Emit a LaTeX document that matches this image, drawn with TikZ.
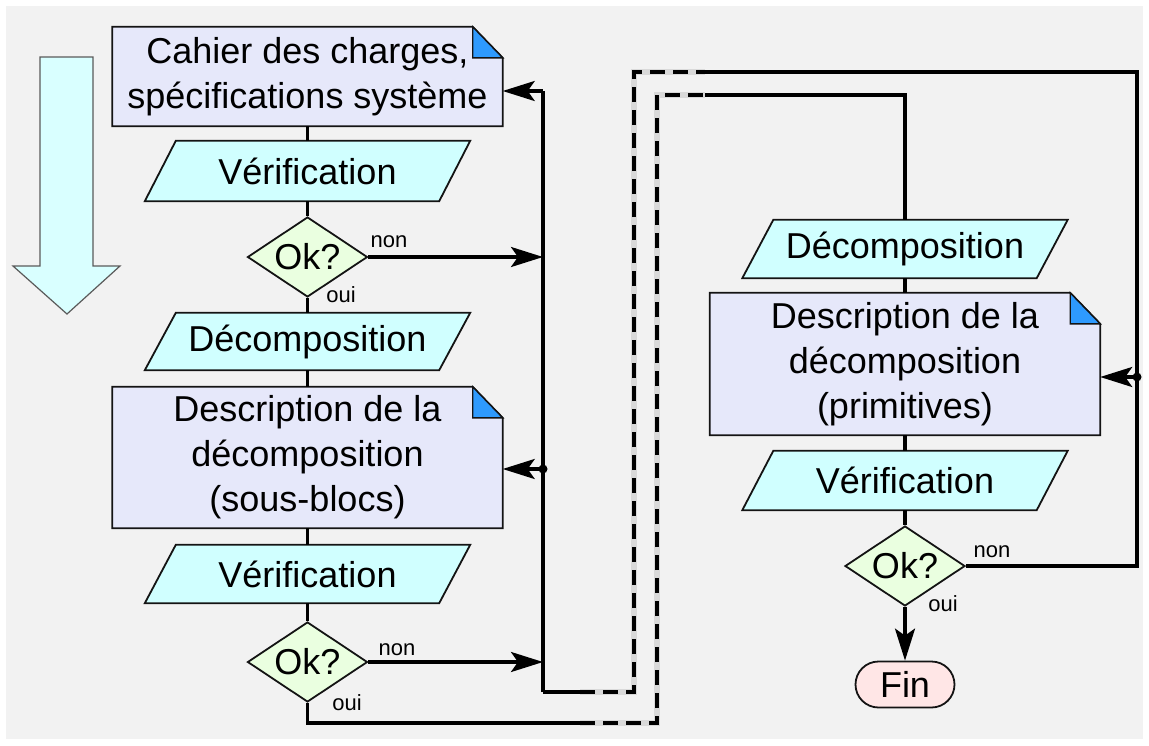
\documentclass[tikz,border=0pt]{standalone}
\usepackage{fontspec}
\setmainfont{Liberation Sans}
\usetikzlibrary{shapes.geometric,arrows.meta,backgrounds}

\definecolor{canvas}{RGB}{242,242,242}
\definecolor{docfill}{RGB}{230,232,250}
\definecolor{foldblue}{RGB}{46,154,254}
\definecolor{stepfill}{RGB}{208,255,255}
\definecolor{testfill}{RGB}{234,255,224}
\definecolor{endfill}{RGB}{255,230,230}
\definecolor{flowfill}{RGB}{217,255,255}
\definecolor{inkline}{RGB}{20,20,20}

\tikzset{
  bigtext/.style={font=\fontsize{36}{45}\selectfont},
  lbl/.style={font=\fontsize{22}{26}\selectfont, inner sep=0pt},
  docbox/.style={bigtext, shape=rectangle, minimum width=390pt, inner sep=0pt, align=center},
  iobox/.style={bigtext, shape=rectangle, minimum width=294pt, inner sep=0pt},
  testbox/.style={bigtext, diamond, draw=inkline, fill=testfill, line width=1.8pt,
    minimum width=120pt, minimum height=80pt, inner sep=0pt},
  endbox/.style={bigtext, rectangle, rounded corners=23pt, draw=inkline, fill=endfill,
    line width=1.8pt, minimum width=99pt, minimum height=46pt, inner sep=0pt},
  shapeline/.style={draw=inkline, line width=1.8pt},
  conn/.style={draw=black, line width=3.2pt},
  flow/.style={conn, -{Stealth[length=32pt,width=20pt,inset=7pt]}},
  hop/.style={draw=black, line width=3.2pt, dash pattern=on 15pt off 8pt,
    preaction={draw=gray!30, line width=6.5pt, solid}},
}

% text of the decision diamonds, centred on the node
\newcommand\oktext{\makebox[0pt]{\raisebox{-0.36em}[0pt][0pt]{Ok?}}}

% document shape with a folded corner
\newcommand\docshape[1]{%
  \path[shapeline, fill=docfill] (#1.south west) -- (#1.north west)
    -- ([xshift=-30pt]#1.north east) -- ([yshift=-31pt]#1.north east)
    -- (#1.south east) -- cycle;
  \path[draw=inkline, line width=1.4pt, fill=foldblue]
    ([xshift=-30pt]#1.north east) -- ([xshift=-30pt,yshift=-31pt]#1.north east)
    -- ([yshift=-31pt]#1.north east) -- cycle;}

% slanted input/output shape
\newcommand\ioshape[1]{%
  \path[shapeline, fill=stepfill] ([xshift=-15.5pt]#1.south west)
    -- ([xshift=15.5pt]#1.north west) -- ([xshift=15.5pt]#1.north east)
    -- ([xshift=-15.5pt]#1.south east) -- cycle;}

\begin{document}
\begin{tikzpicture}[x=1pt,y=-1pt]
\useasboundingbox (0,0) rectangle (1149,745);

% left column
\node[docbox, minimum height=99pt] (spec) at (307.5,76.5) {Cahier des charges,\\spécifications système};
\node[iobox, minimum height=60pt] (chk1) at (307.5,171) {Vérification};
\node[testbox] (ok1) at (307.5,257) {\oktext};
\node[iobox, minimum height=57pt] (dec1) at (307.5,341.5) {Décomposition};
\node[docbox, minimum height=141pt] (blocs) at (307.5,457.5) {Description de la\\décomposition\\(sous-blocs)};
\node[iobox, minimum height=58pt] (chk2) at (307.5,574) {Vérification};
\node[testbox] (ok2) at (307.5,662) {\oktext};

% right column
\node[iobox, minimum height=58pt] (dec2) at (905,249) {Décomposition};
\node[docbox, minimum height=142pt] (prim) at (905,364) {Description de la\\décomposition\\(primitives)};
\node[iobox, minimum height=59pt] (chk3) at (905,480.5) {Vérification};
\node[testbox] (ok3) at (905,566) {\oktext};
\node[endbox] (fin) at (905,684.5) {Fin};

% branch labels
\node[lbl] (non1) at (389,242) {non};
\node[lbl] (oui1) at (341,295) {oui};
\node[lbl] (non2) at (397,650) {non};
\node[lbl] (oui2) at (347,703) {oui};
\node[lbl] (non3) at (992,552) {non};
\node[lbl] (oui3) at (943,604) {oui};

% routing points
\coordinate (busL-top) at (543,91);
\coordinate (busL-bot) at (543,692);
\coordinate (busL-dot) at (543,469);
\coordinate (loopA-1) at (580,692);
\coordinate (loopA-2) at (634,692);
\coordinate (loopA-3) at (634,72);
\coordinate (loopA-4) at (705,72);
\coordinate (busR-top) at (1137,72);
\coordinate (busR-dot) at (1137,377);
\coordinate (loopB-0) at (307.5,723);
\coordinate (loopB-1) at (580,723);
\coordinate (loopB-2) at (657,723);
\coordinate (loopB-3) at (657,95);
\coordinate (loopB-4) at (705,95);
\coordinate (loopB-5) at (905,95);

% main flow
\draw[conn] (spec) -- (chk1) -- (ok1) -- (dec1) -- (blocs) -- (chk2) -- (ok2);
\draw[conn] (dec2) -- (prim) -- (chk3) -- (ok3);
\draw[flow] (ok3) -- (fin);

% rework loop of the left column
\draw[flow] (ok1.east) -- (busL-top |- ok1.east);
\draw[flow] (ok2.east) -- (busL-top |- ok2.east);
\draw[conn] (busL-bot) -- (busL-top);
\draw[flow] (busL-top) -- (spec.east |- busL-top);
\fill (busL-dot) circle (4.5pt);
\draw[flow] (busL-dot) -- (blocs.east |- busL-dot);

% rework loop of the right column
\draw[conn] (busL-bot) -- (loopA-1);
\draw[hop] (loopA-1) -- (loopA-2) -- (loopA-3) -- (loopA-4);
\draw[conn] (loopA-4) -- (busR-top) -- (busR-top |- ok3.east) -- (ok3.east);
\fill (busR-dot) circle (4.5pt);
\draw[flow] (busR-dot) -- (prim.east |- busR-dot);

% hand-over from the left column to the right column
\draw[conn] (ok2.south) -- (loopB-0) -- (loopB-1);
\draw[hop] (loopB-1) -- (loopB-2) -- (loopB-3) -- (loopB-4);
\draw[conn] (loopB-4) -- (loopB-5) -- (dec2.north);

\begin{scope}[on background layer]
  \fill[white] (0,0) rectangle (1149,745);
  \fill[canvas] (6,6) rectangle (1143,739);
  % direction of the flow
  \path[draw=inkline!70, line width=1.2pt, fill=flowfill]
    (40,57) -- (93,57) -- (93,266) -- (120,266) -- (67,314) -- (13,266) -- (40,266) -- cycle;
  \docshape{spec}
  \docshape{blocs}
  \docshape{prim}
  \ioshape{chk1}
  \ioshape{dec1}
  \ioshape{chk2}
  \ioshape{dec2}
  \ioshape{chk3}
\end{scope}
\end{tikzpicture}
\end{document}
